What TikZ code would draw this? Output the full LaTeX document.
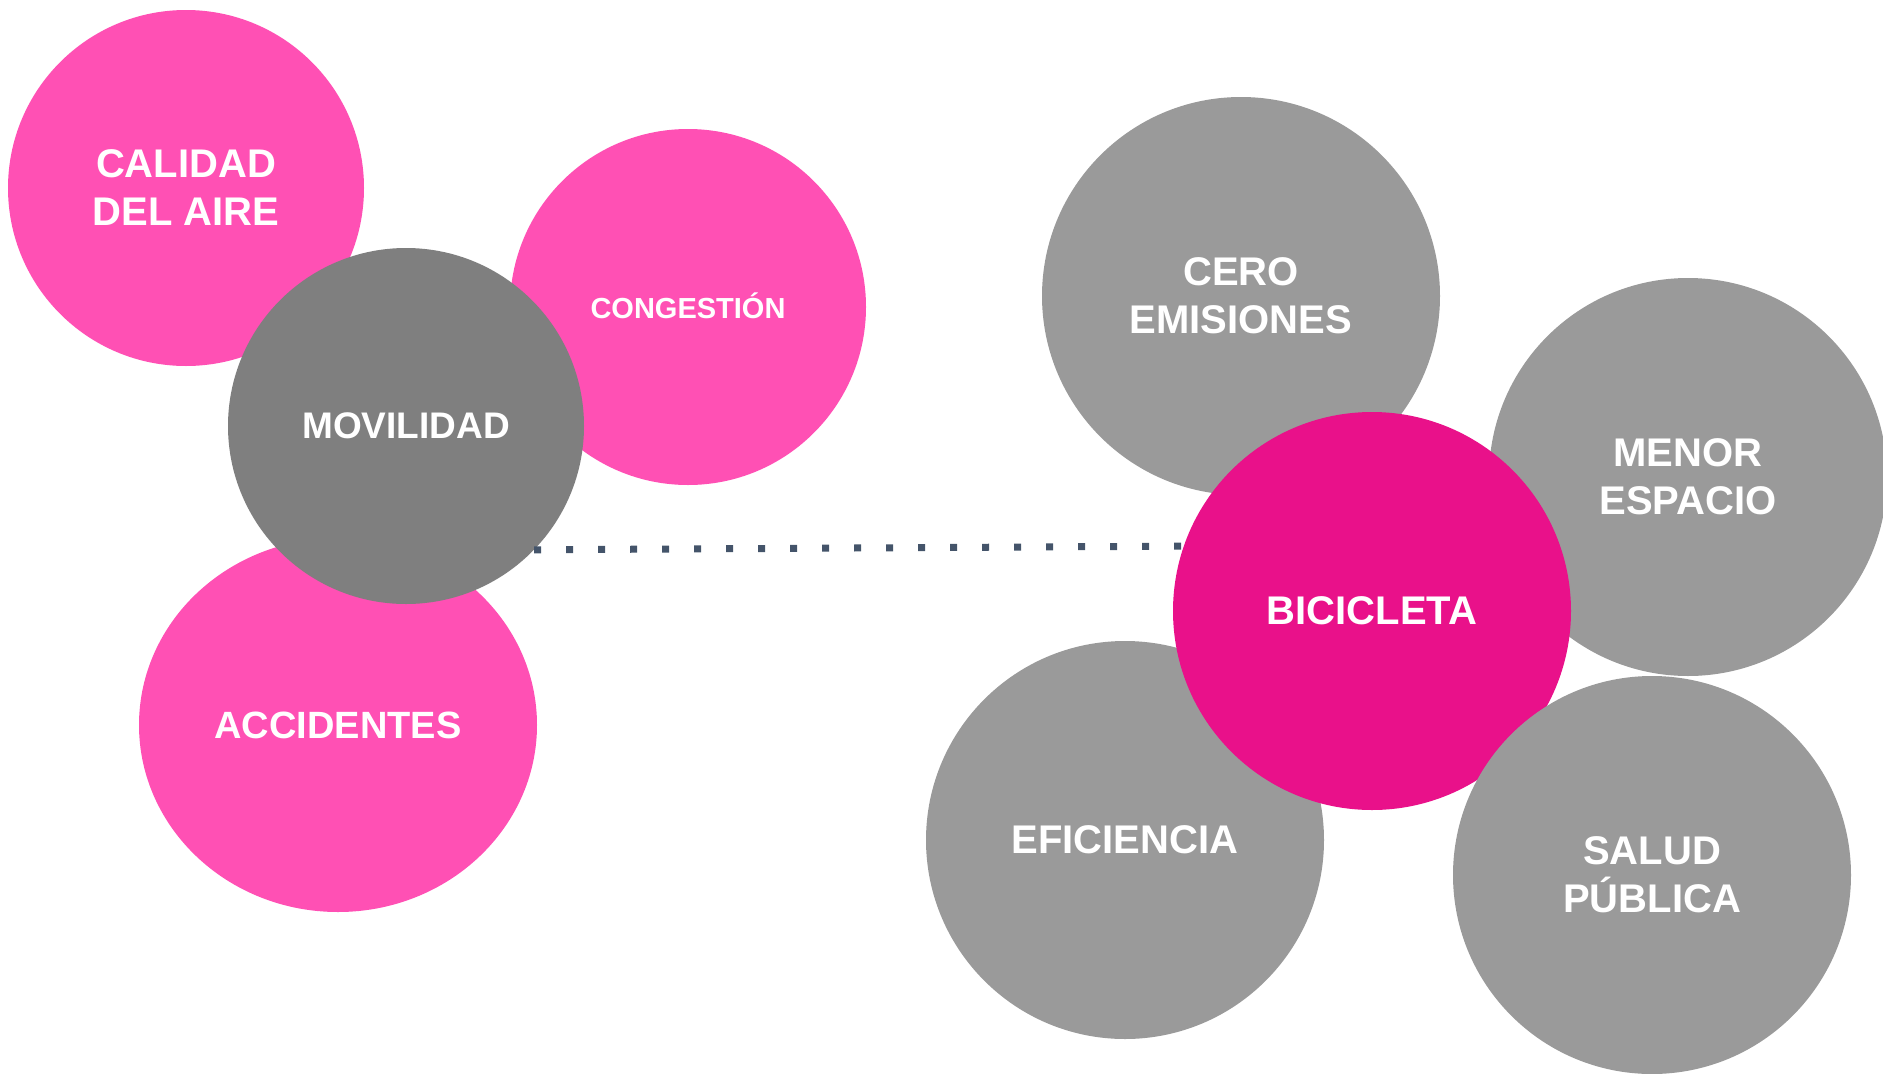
\documentclass[tikz,border=0pt]{standalone}
\usepackage{fontspec}
\setmainfont{Liberation Sans}
\usetikzlibrary{shapes.geometric}
\definecolor{pinklight}{HTML}{FF50B4}
\definecolor{pinkdark}{HTML}{E9118A}
\definecolor{graydark}{HTML}{7F7F7F}
\definecolor{graylight}{HTML}{9A9A9A}
\definecolor{dotblue}{HTML}{44546A}
\tikzset{
  bubble/.style={circle, inner sep=0pt, text=white, align=center,
    font=\bfseries\fontsize{40}{48}\selectfont},
  small/.style={minimum size=356pt},
  big/.style={minimum size=398pt},
  dotline/.style={draw=dotblue, line width=7pt, dash pattern=on 7pt off 25pt}
}

\begin{document}
\begin{tikzpicture}[x=1pt, y=-1pt]

\useasboundingbox (0,0) rectangle (1883,1074) ;

%left group
\node [bubble, small, fill=pinklight] (calidad) at (186,188) {CALIDAD\\DEL AIRE} ;
\node [bubble, small, fill=pinklight, font=\bfseries\fontsize{29}{35}\selectfont, text depth=3pt] (congestion) at (688,307) {CONGESTIÓN} ;
\node [bubble, ellipse, minimum width=398pt, minimum height=374pt, fill=pinklight, font=\bfseries\fontsize{38}{46}\selectfont] (accidentes) at (338,725) {ACCIDENTES} ;
\node [bubble, small, fill=graydark, font=\bfseries\fontsize{37}{44}\selectfont] (movilidad) at (406,426) {MOVILIDAD} ;

%right group
\node [bubble, big, fill=graylight] (cero) at (1241,296) {CERO\\EMISIONES} ;
\node [bubble, big, fill=graylight] (menor) at (1688,477) {MENOR\\ESPACIO} ;
\node [bubble, big, fill=graylight] (eficiencia) at (1125,840) {EFICIENCIA} ;
\node [bubble, big, fill=pinkdark] (bicicleta) at (1372,611) {BICICLETA} ;
\node [bubble, big, fill=graylight] (salud) at (1652,875) {SALUD\\PÚBLICA} ;

%dotted link
\draw [dotline] (movilidad.-44.6) -- (bicicleta.161.2) ;

\end{tikzpicture}
\end{document}
